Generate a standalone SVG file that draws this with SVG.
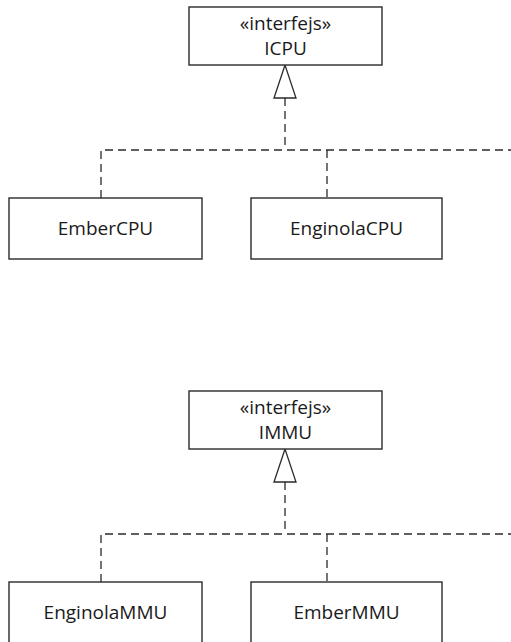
<svg xmlns="http://www.w3.org/2000/svg" width="511" height="642" viewBox="0 0 511 642">
  <defs>
    <style>
      .box { fill: #ffffff; stroke: #2a2a2a; stroke-width: 1.4; }
      .lbl { font-family: "Open Sans", "Noto Sans", sans-serif; font-size: 19px; fill: #1a1a1a; text-anchor: middle; }
      .dash { fill: none; stroke: #2a2a2a; stroke-width: 1.3; stroke-dasharray: 8 5; }
      .tri { fill: #ffffff; stroke: #2a2a2a; stroke-width: 1.3; stroke-linejoin: miter; }
    </style>
  </defs>
  <rect width="511" height="642" fill="#ffffff"/>

  <!-- CPU realisation -->
  <g id="connectors-cpu">
    <path class="dash" d="M285 98 V150"/>
    <path class="dash" d="M101 198 V150 H511"/>
    <path class="dash" d="M327 150 V198"/>
    <polygon class="tri" points="285,65 274,98 296,98"/>
  </g>
  <g id="ICPU">
    <rect class="box" x="189" y="7" width="193" height="58"/>
    <text class="lbl" x="285.5" y="30">«interfejs»</text>
    <text class="lbl" x="285.5" y="55">ICPU</text>
  </g>
  <g id="EmberCPU">
    <rect class="box" x="9" y="198" width="193" height="61"/>
    <text class="lbl" x="105.5" y="235">EmberCPU</text>
  </g>
  <g id="EnginolaCPU">
    <rect class="box" x="251" y="198" width="191" height="61"/>
    <text class="lbl" x="346.5" y="235">EnginolaCPU</text>
  </g>

  <!-- MMU realisation -->
  <g id="connectors-mmu">
    <path class="dash" d="M285 482 V534"/>
    <path class="dash" d="M101 582 V534 H511"/>
    <path class="dash" d="M327 534 V582"/>
    <polygon class="tri" points="285,449 274,482 296,482"/>
  </g>
  <g id="IMMU">
    <rect class="box" x="189" y="391" width="193" height="58"/>
    <text class="lbl" x="285.5" y="414">«interfejs»</text>
    <text class="lbl" x="285.5" y="439">IMMU</text>
  </g>
  <g id="EnginolaMMU">
    <rect class="box" x="9" y="582" width="193" height="61"/>
    <text class="lbl" x="105.5" y="619">EnginolaMMU</text>
  </g>
  <g id="EmberMMU">
    <rect class="box" x="251" y="582" width="191" height="61"/>
    <text class="lbl" x="346.5" y="619">EmberMMU</text>
  </g>
</svg>
